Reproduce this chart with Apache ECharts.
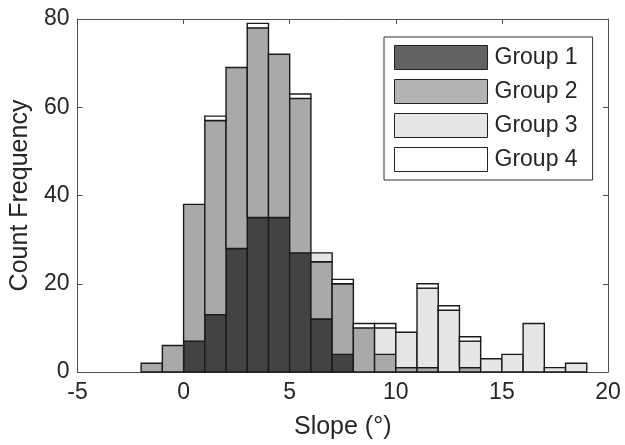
<!DOCTYPE html>
<html>
<head>
<meta charset="utf-8">
<script src="https://cdn.jsdelivr.net/npm/echarts@6/dist/echarts.min.js"></script>
<style>html,body{margin:0;padding:0;background:#fff;}#c{width:625px;height:445px;}</style>
</head>
<body>
<div id="c"></div>
<script>
// Bin left edges (bin width 1)
const binStarts = [-2,-1,0,1,2,3,4,5,6,7,8,9,10,11,12,13,14,15,16,17,18];
const group1 = [0,0,7,13,28,35,35,27,12,4,0,0,0,0,0,0,0,0,0,0,0];
const group2 = [2,6,31,44,41,43,37,35,13,16,10,4,1,1,0,1,0,0,0,0,0];
const group3 = [0,0,0,0,0,0,0,0,2,0,0,6,8,18,14,6,3,4,11,1,2];
const group4 = [0,0,0,1,0,1,0,1,0,1,1,1,0,1,1,1,0,0,0,0,0];
const groupNames = ['Group 1','Group 2','Group 3','Group 4'];
const xTicks = [-5,0,5,10,15,20];
const yTicks = [0,20,40,60,80];

const groups = [group1, group2, group3, group4];
const fills = ['#434343','#a9a9a9','#e6e6e6','#ffffff'];
const legendFills = ['#626262','#b3b3b3','#e6e6e6','#ffffff'];
const FONT = '"Liberation Sans", Arial, Helvetica, sans-serif';
const TXT = '#262626';

const base = binStarts.map(() => 0);
const series = groups.map((g, gi) => {
  const data = [];
  g.forEach((v, i) => {
    if (v > 0) data.push([binStarts[i], binStarts[i] + 1, base[i], base[i] + v]);
    base[i] += v;
  });
  return {
    name: groupNames[gi],
    type: 'custom',
    itemStyle: { color: legendFills[gi] },
    encode: { x: [0, 1], y: [2, 3] },
    data: data,
    renderItem: function (params, api) {
      const p0 = api.coord([api.value(0), api.value(2)]);
      const p1 = api.coord([api.value(1), api.value(3)]);
      return {
        type: 'rect',
        shape: { x: p0[0], y: p1[1], width: p1[0] - p0[0], height: p0[1] - p1[1] },
        style: { fill: fills[gi], stroke: '#1a1a1a', lineWidth: 1.4 }
      };
    }
  };
});

const axisLine = { show: true, onZero: false, lineStyle: { color: '#505050', width: 1 } };
const tickIn = { show: true, inside: true, length: 5, lineStyle: { color: '#505050' } };

const chart = echarts.init(document.getElementById('c'), null, { renderer: 'canvas' });
chart.setOption({
  animation: false,
  backgroundColor: '#fff',
  grid: { left: 76, right: 17, top: 19, bottom: 70, containLabel: false },
  legend: {
    orient: 'vertical',
    left: 384, top: 37,
    padding: [8, 15, 8, 10],
    itemWidth: 93, itemHeight: 24, itemGap: 9,
    icon: 'rect',
    backgroundColor: '#fff',
    borderColor: '#333', borderWidth: 1,
    textStyle: { fontFamily: FONT, fontSize: 23, color: TXT, padding: [0, 0, 0, 2] },
    data: groupNames.map((n, i) => ({
      name: n,
      itemStyle: { color: legendFills[i], borderColor: '#222', borderWidth: 1 }
    }))
  },
  xAxis: [{
    type: 'value', min: xTicks[0], max: xTicks[xTicks.length - 1], interval: 5,
    position: 'bottom',
    name: 'Slope (°)', nameLocation: 'middle', nameGap: 43,
    nameTextStyle: { fontFamily: FONT, fontSize: 25, color: TXT },
    axisLine: axisLine, axisTick: tickIn,
    axisLabel: { fontFamily: FONT, fontSize: 23, color: TXT, margin: 9 },
    splitLine: { show: false }
  }, {
    type: 'value', min: xTicks[0], max: xTicks[xTicks.length - 1], interval: 5,
    position: 'top',
    axisLine: axisLine, axisTick: tickIn,
    axisLabel: { show: false }, splitLine: { show: false }
  }],
  yAxis: [{
    type: 'value', min: yTicks[0], max: yTicks[yTicks.length - 1], interval: 20,
    position: 'left',
    name: 'Count Frequency', nameLocation: 'middle', nameGap: 41,
    nameTextStyle: { fontFamily: FONT, fontSize: 25, color: TXT },
    axisLine: axisLine, axisTick: tickIn,
    axisLabel: { fontFamily: FONT, fontSize: 23, color: TXT, margin: 8 },
    splitLine: { show: false }
  }, {
    type: 'value', min: yTicks[0], max: yTicks[yTicks.length - 1], interval: 20,
    position: 'right',
    axisLine: axisLine, axisTick: tickIn,
    axisLabel: { show: false }, splitLine: { show: false }
  }],
  series: series
});
</script>
</body>
</html>
